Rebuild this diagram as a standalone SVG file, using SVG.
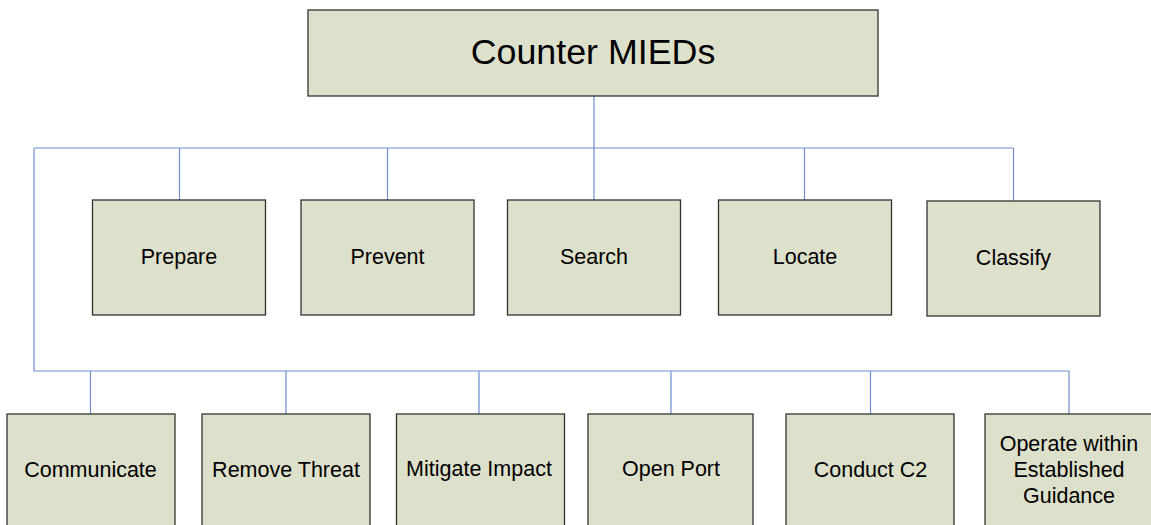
<svg xmlns="http://www.w3.org/2000/svg" width="1151" height="525" viewBox="0 0 1151 525">
<style>
.box{fill:#dde0cb;stroke:#333;stroke-width:1.3}
.lbl{font-family:"Liberation Sans",Arial,sans-serif;font-size:21.5px;fill:#000;text-anchor:middle}
.title{font-family:"Liberation Sans",Arial,sans-serif;font-size:35.8px;fill:#000;text-anchor:middle}
.conn{fill:none;stroke:#6d8fcc;stroke-width:1.2}
</style>
<rect width="1151" height="525" fill="#fff"/>
<g id="connectors">
<path class="conn" d="M594 96V148M34 148H1013M34 148V371H1069M179.5 148V200M387.5 148V200M594 148V200M804.5 148V200M1013.5 148V201M90.5 371V414M286 371V414M479 371V414M671 371V414M870.5 371V414M1069 371V414"/>
</g>
<g id="counter-mieds"><rect class="box" x="308" y="10" width="570" height="86"/><text class="title" x="593" y="64">Counter MIEDs</text></g>
<g id="prepare"><rect class="box" x="92.5" y="200" width="173" height="115"/><text class="lbl" x="179" y="264">Prepare</text></g>
<g id="prevent"><rect class="box" x="301" y="200" width="173" height="115"/><text class="lbl" x="387.5" y="264">Prevent</text></g>
<g id="search"><rect class="box" x="507.5" y="200" width="173" height="115"/><text class="lbl" x="594" y="264">Search</text></g>
<g id="locate"><rect class="box" x="718.5" y="200" width="173" height="115"/><text class="lbl" x="805" y="264">Locate</text></g>
<g id="classify"><rect class="box" x="927" y="201" width="173" height="115"/><text class="lbl" x="1013.5" y="265">Classify</text></g>
<g id="communicate"><rect class="box" x="7" y="414" width="168" height="120"/><text class="lbl" x="90.5" y="477">Communicate</text></g>
<g id="remove-threat"><rect class="box" x="202" y="414" width="168" height="120"/><text class="lbl" x="286" y="477">Remove Threat</text></g>
<g id="mitigate-impact"><rect class="box" x="396.5" y="414" width="168" height="120"/><text class="lbl" x="479" y="476">Mitigate Impact</text></g>
<g id="open-port"><rect class="box" x="588" y="414" width="165" height="120"/><text class="lbl" x="671" y="476">Open Port</text></g>
<g id="conduct-c2"><rect class="box" x="786" y="414" width="168" height="120"/><text class="lbl" x="870.5" y="477">Conduct C2</text></g>
<g id="operate"><rect class="box" x="985" y="414" width="170" height="120"/><text class="lbl" x="1069"><tspan x="1069" y="451">Operate within</tspan><tspan x="1069" y="477">Established</tspan><tspan x="1069" y="503">Guidance</tspan></text></g>
</svg>
